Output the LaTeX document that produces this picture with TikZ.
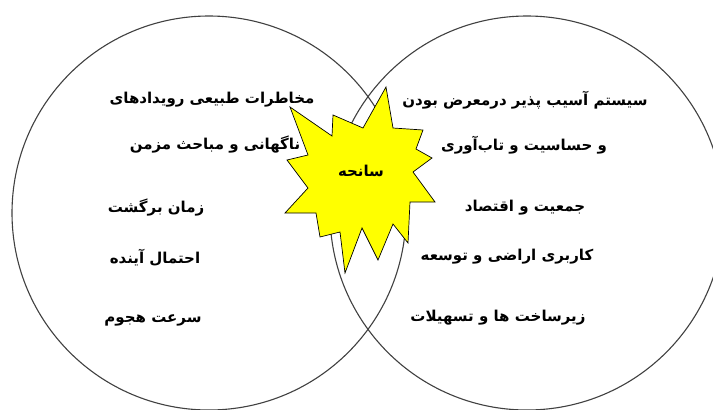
\documentclass[tikz,border=0pt]{standalone}
\usepackage{fontspec}
\newfontfamily\farsi[Script=Arabic]{DejaVu Sans}
\TeXXeTstate=1
\definecolor{StarYellow}{HTML}{FFFF00}
\usetikzlibrary{positioning}
\newcommand{\fa}[1]{\beginR #1\endR}

\begin{document}
\begin{tikzpicture}[x=1pt, y=-1pt, every node/.style={font=\farsi\bfseries\fontsize{15}{18}\selectfont}]
\tikzset{ring/.style={circle, draw=black!75, line width=1.1pt, minimum size=394pt, inner sep=0pt}}
\tikzset{item/.style={inner sep=1pt}}
\useasboundingbox (0,0) rectangle (713,410);
\clip (0,0) rectangle (713,410);
% two circles
\node[ring] (hazard) at (209,213) {};
\node[ring] (system) at (527,213) {};
% starburst
\filldraw[fill=StarYellow, draw=black, line width=0.7pt]
  (386,87) -- (363,128) -- (333,115) -- (332,136) -- (290,107) -- (308,155)
  -- (287,160) -- (308,188) -- (285,213) -- (316,213) -- (320,237) -- (340,232)
  -- (345,273) -- (362,228) -- (378,260) -- (393,224) -- (408,243) -- (410,202)
  -- (435,202) -- (413,172) -- (432,158) -- (416,149) -- (423,130) -- (393,128) -- cycle;
\node[item] (disaster) at (361,171) {\fa{سانحه}};
% left side
\node[item] (h1) at (212,100) {\fa{مخاطرات طبیعی رویدادهای}};
\node[item] (h2) at (215,145) {\fa{ناگهانی و مباحث مزمن}};
\node[item] (h3) at (156,208) {\fa{زمان برگشت}};
\node[item] (h4) at (155,258) {\fa{احتمال آینده}};
\node[item] (h5) at (153,320) {\fa{سرعت هجوم}};
% right side
\node[item] (s1) at (525,100) {\fa{سیستم آسیب پذیر درمعرض بودن}};
\node[item] (s2) at (524,145) {\fa{و حساسیت و تاب‌آوری}};
\node[item] (s3) at (525,208) {\fa{جمعیت و اقتصاد}};
\node[item] (s4) at (507,257) {\fa{کاربری اراضی و توسعه}};
\node[item] (s5) at (498,318) {\fa{زیرساخت ها و تسهیلات}};
\end{tikzpicture}
\end{document}
